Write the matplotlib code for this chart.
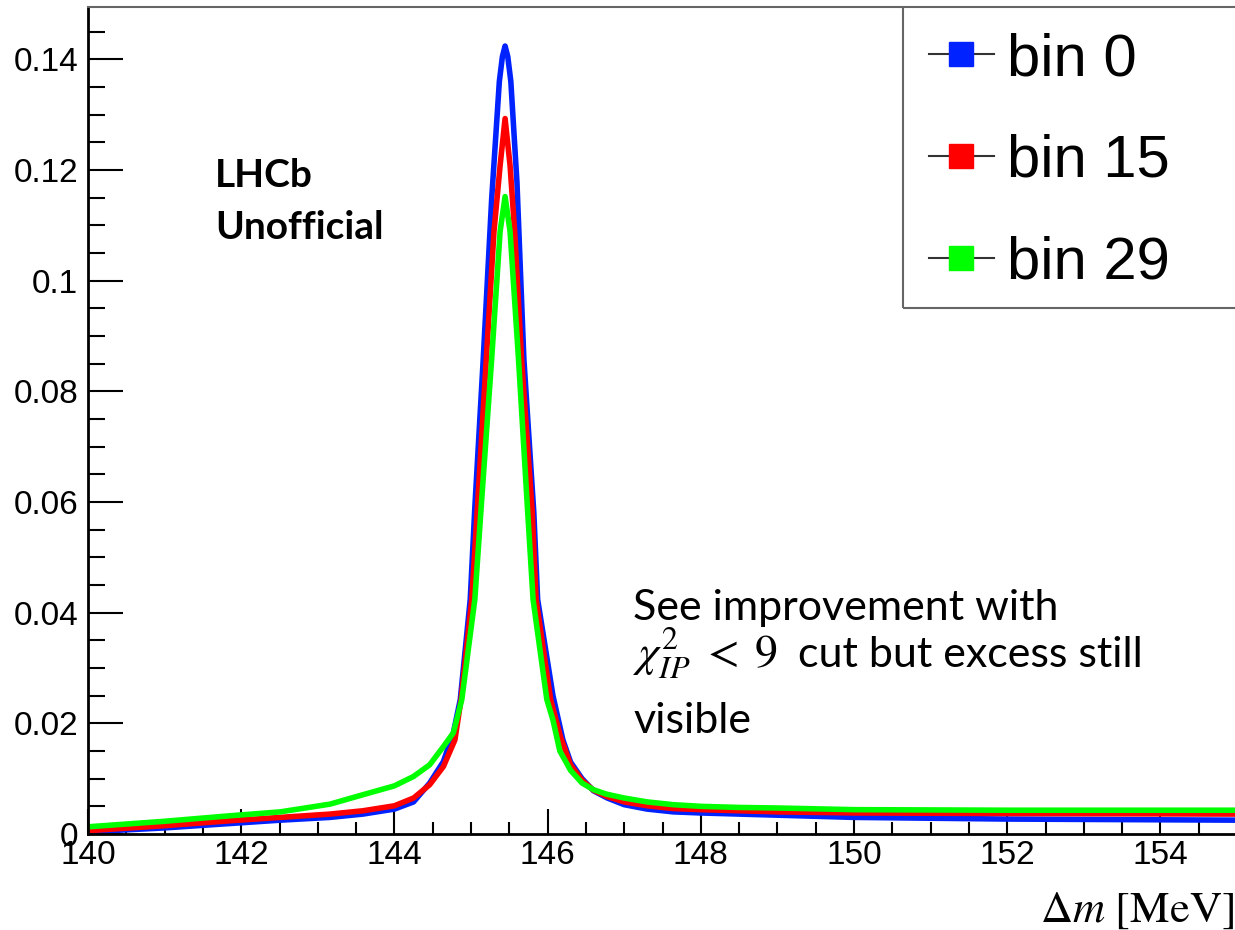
import matplotlib
matplotlib.use('Agg')
import matplotlib.pyplot as plt
from matplotlib.lines import Line2D
from matplotlib.patches import Rectangle
from matplotlib.ticker import MultipleLocator, FuncFormatter

# values
blue_x = [140.0, 141.0, 141.86, 142.51, 143.16, 143.59, 144.0, 144.25, 144.46, 144.64, 144.77, 144.86,
          144.99, 145.05, 145.16, 145.27, 145.37, 145.41, 145.445, 145.48, 145.52, 145.60, 145.69,
          145.82, 145.87, 146.07, 146.20, 146.30, 146.45, 146.60, 146.78, 147.0, 147.3, 147.64,
          148.0, 148.5, 149.0, 150.0, 152.0, 155.0]
blue_y = [0.0004, 0.0011, 0.0019, 0.0025, 0.0030, 0.0036, 0.0045, 0.0058, 0.0092, 0.0131, 0.0183, 0.0243,
          0.0424, 0.0590, 0.0859, 0.1148, 0.1360, 0.1405, 0.1424, 0.1405, 0.1360, 0.1178, 0.0859,
          0.0581, 0.0424, 0.0250, 0.0170, 0.0130, 0.0100, 0.0078, 0.0065, 0.0053, 0.0045, 0.0040,
          0.0038, 0.0036, 0.0034, 0.0030, 0.0027, 0.0025]

red_x = [140.0, 141.0, 141.86, 142.51, 143.16, 143.59, 144.0, 144.25, 144.46, 144.64, 144.79, 144.87,
         145.01, 145.08, 145.20, 145.30, 145.38, 145.445, 145.51, 145.57, 145.66, 145.80, 145.85,
         146.04, 146.17, 146.30, 146.45, 146.60, 146.77, 147.0, 147.3, 147.64, 148.0, 148.5, 149.0,
         150.0, 152.0, 155.0]
red_y = [0.0006, 0.0015, 0.0024, 0.0030, 0.0036, 0.0042, 0.0051, 0.0065, 0.0089, 0.0122, 0.0170, 0.0243,
         0.0424, 0.0581, 0.0859, 0.1089, 0.1208, 0.1293, 0.1208, 0.1089, 0.0859, 0.0581, 0.0424,
         0.0243, 0.0175, 0.0125, 0.0097, 0.0079, 0.0068, 0.0058, 0.0051, 0.0046, 0.0044, 0.0042, 0.0040,
         0.0038, 0.0037, 0.0036]

green_x = [140.0, 141.0, 141.86, 142.51, 143.16, 143.59, 144.0, 144.25, 144.46, 144.64, 144.77, 144.88,
           145.05, 145.14, 145.27, 145.38, 145.445, 145.51, 145.62, 145.73, 145.81, 145.99, 146.07,
           146.16, 146.30, 146.45, 146.60, 146.77, 147.0, 147.3, 147.64, 148.0, 148.5, 149.0, 150.0,
           152.0, 155.0]
green_y = [0.0013, 0.0023, 0.0033, 0.0040, 0.0054, 0.0071, 0.0087, 0.0104, 0.0125, 0.0158, 0.0183, 0.0243,
           0.0424, 0.0605, 0.0859, 0.1089, 0.1152, 0.1089, 0.0859, 0.0605, 0.0424, 0.0243, 0.0206,
           0.0150, 0.0115, 0.0092, 0.0080, 0.0072, 0.0065, 0.0058, 0.0053, 0.0050, 0.0048, 0.0047, 0.0044,
           0.0043, 0.0043]

labels = ['bin 0', 'bin 15', 'bin 29']
colors = ['#0022ff', '#ff0000', '#00ff00']

plt.rcParams['font.family'] = ['Liberation Sans', 'DejaVu Sans']
plt.rcParams['mathtext.fontset'] = 'stix'

W, H = 1235, 930
fig = plt.figure(figsize=(W / 100, H / 100), dpi=100)
ax = fig.add_axes([88 / W, 1 - 834 / H, (1237 - 88) / W, (834 - 7.3) / H])

for xs, ys, c in zip([blue_x, red_x, green_x], [blue_y, red_y, green_y], colors):
    ax.plot(xs, ys, color=c, lw=4.0, solid_joinstyle='round', solid_capstyle='butt')

ax.set_xlim(140, 155)
ax.set_ylim(0, 0.1494)

ax.xaxis.set_major_locator(MultipleLocator(2))
ax.xaxis.set_minor_locator(MultipleLocator(0.5))
ax.yaxis.set_major_locator(MultipleLocator(0.02))
ax.yaxis.set_minor_locator(MultipleLocator(0.005))
ax.yaxis.set_major_formatter(FuncFormatter(lambda v, p: f'{v:g}'))

ax.tick_params(axis='x', which='major', direction='in', length=18, width=1.5, labelsize=24, pad=4)
ax.tick_params(axis='x', which='minor', direction='in', length=8.6, width=1.5)
ax.tick_params(axis='y', which='major', direction='in', length=25, width=1.5, labelsize=24, pad=7)
ax.tick_params(axis='y', which='minor', direction='in', length=12, width=1.5)

ax.spines['right'].set_visible(False)
ax.spines['top'].set_color('#666666')
ax.spines['top'].set_linewidth(1.5)
ax.spines['left'].set_linewidth(2)
ax.spines['bottom'].set_linewidth(2)

# legend box, right side runs off the picture
ax.add_patch(Rectangle((0.7093, 0.6363), 0.4, 0.4, transform=ax.transAxes, fill=False,
                       edgecolor='#666666', lw=1.5, clip_on=True, zorder=5))
handles = [Line2D([], [], color='#333333', lw=1.5, marker='s', markersize=17,
                  markerfacecolor=c, markeredgecolor=c) for c in colors]
ax.legend(handles, labels, loc='upper left', bbox_to_anchor=(0.7102, 1.0), frameon=False,
          fontsize=43, borderpad=0.42, borderaxespad=0, handlelength=1.08,
          handletextpad=0.22, labelspacing=0.78)

fig.text(215 / W, 1 - 186.7 / H, 'LHCb', family=['Lato', 'DejaVu Sans'], weight='bold',
         fontsize=28, va='baseline')
fig.text(215 / W, 1 - 239.3 / H, 'Unofficial', family=['Lato', 'DejaVu Sans'], weight='bold',
         fontsize=28, va='baseline')

fig.text(633 / W, 1 - 620 / H, 'See improvement with', family=['Lato', 'DejaVu Sans'],
         fontsize=31, va='baseline')
fig.text(633 / W, 1 - 667 / H, r'$\chi^2_{IP}\;<\;9$', fontsize=33, va='baseline')
fig.text(798 / W, 1 - 667 / H, 'cut but excess still', family=['Lato', 'DejaVu Sans'],
         fontsize=31, va='baseline')
fig.text(633 / W, 1 - 733 / H, 'visible', family=['Lato', 'DejaVu Sans'],
         fontsize=31, va='baseline')

fig.text(1234 / W, 1 - 922 / H, r'$\Delta m\ [\mathrm{MeV}]$', fontsize=32, ha='right',
         va='baseline')

fig.savefig('out.png', dpi=100)
